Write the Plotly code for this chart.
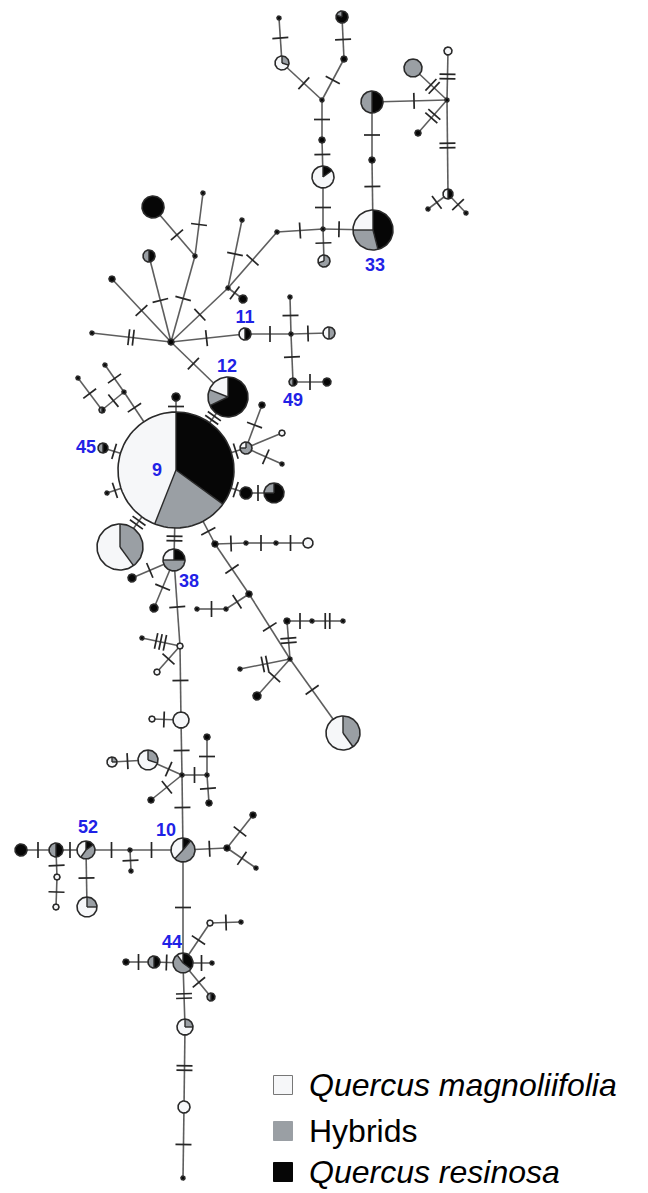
import math
import plotly.graph_objects as go

W, H = 648, 1193

# ---------------- haplotype nodes ----------------
node_id = ["t1", "t2", "t3", "t4", "t5", "t6", "t7", "t8", "t9", "33", "t10", "t11", "t12", "t13", "t14", "t15", "t16", "t17", "t18", "t19",
           "m1", "m2", "m3", "hub", "m4", "m5", "m6", "m7", "m8", "m9", "11", "m10", "m11", "m12", "49", "m13", "12",
           "9", "n1", "n2", "n3", "n4", "n5", "45", "n6", "n7", "n8", "n9", "n10", "n11", "n12", "n13", "38", "n14", "n15",
           "d1", "d2", "d3", "d4", "d5", "d6", "d7", "d8", "d9", "d10", "d11", "d12", "d13", "d14",
           "v1", "v2", "v3", "v4", "v5", "v6", "v7", "v8", "v9", "v10", "v11", "v12", "10",
           "l1", "l2", "52", "l3", "l4", "l5", "l6", "l7", "l8", "l9", "l10", "44", "l11", "l12", "l13", "l14", "l15", "l16", "l17", "l18", "l19"]

node_x = [279, 282, 342, 344, 322, 322, 323, 323, 324, 373, 372, 372, 447, 448, 413, 418, 448, 428, 466, 277,
          228, 242, 243, 171, 92, 112, 149, 195, 153, 203, 245, 291, 329, 290, 293, 327, 228,
          176, 176, 124, 105, 102, 78, 103, 107, 246, 262, 282, 282, 246, 274, 120, 174, 132, 154,
          215, 246, 276, 308, 249, 226, 197, 290, 287, 312, 343, 240, 257, 343,
          180, 142, 157, 181, 152, 182, 148, 112, 151, 207, 207, 209, 183,
          130, 131, 86, 56, 21, 57, 56, 87, 227, 253, 256, 183, 154, 126, 212, 210, 241, 211, 185, 184, 183]

node_y = [18, 63, 17, 59, 100, 140, 177, 229, 261, 230, 160, 102, 100, 51, 68, 133, 194, 209, 213, 232,
          288, 220, 299, 342, 333, 279, 256, 256, 207, 193, 334, 334, 333, 297, 382, 382, 397,
          470, 397, 392, 365, 410, 378, 448, 493, 448, 405, 433, 464, 493, 493, 547, 560, 578, 608,
          544, 543, 543, 543, 594, 609, 609, 659, 621, 621, 621, 669, 696, 733,
          646, 638, 672, 720, 719, 775, 760, 762, 800, 775, 737, 803, 850,
          850, 871, 850, 850, 850, 877, 907, 907, 848, 815, 868, 963, 962, 962, 963, 923, 922, 997, 1027, 1107, 1178]

node_r = [2, 7, 6, 3, 2, 3, 11, 2, 6, 20, 3, 11, 2, 4, 9, 3, 5, 2, 2, 2,
          2, 2, 4, 3, 2, 3, 6, 2, 11, 2, 6, 2, 6, 2, 4, 4, 20,
          58, 4, 2, 2, 3, 2, 5, 2, 6, 3, 3, 2, 6, 10, 23, 11, 4, 4,
          3, 2, 2, 5, 3, 2, 2, 2, 3, 2, 2, 2, 4, 17,
          3, 2, 3, 8, 3, 2, 10, 5, 3, 2, 3, 3, 12,
          2, 2, 9, 7, 6, 3, 3, 10, 3, 3, 2, 10, 6, 3, 2, 3, 2, 4, 8, 6, 2]

# share of each taxon in each haplotype
frac_resinosa = [1, 0, .8, 1, 1, 1, .15, 1, 0, .46, 1, .5, 1, 0, 0, 1, .5, 1, 1, 1,
                 1, 1, 1, 1, 1, 1, .5, 1, 1, 1, .5, 1, 0, 1, .5, 1, .68,
                 .35, 1, 1, 1, .5, 1, .5, 1, 0, 1, 0, 1, 1, .75, 0, .25, 1, 1,
                 1, 1, 1, 0, 1, 1, 1, 1, 1, 1, 1, 1, 1, 0,
                 0, 1, 0, 0, 0, 1, 0, 0, 1, 1, 1, 1, .11,
                 1, 1, .15, .5, 1, 0, 0, 0, 1, 1, 1, .35, .5, 1, 1, 0, 1, .5, 0, 0, 1]

frac_hybrids = [0, .3, .2, 0, 0, 0, 0, 0, .7, .29, 0, .5, 0, 0, 1, 0, 0, 0, 0, 0,
                0, 0, 0, 0, 0, 0, .5, 0, 0, 0, 0, 0, .5, 0, .5, 0, .13,
                .21, 0, 0, 0, .5, 0, .5, 0, .75, 0, 0, 0, 0, .25, .4, .5, 0, 0,
                0, 0, 0, 0, 0, 0, 0, 0, 0, 0, 0, 0, 0, .4,
                0, 0, 0, 0, 0, 0, .3, .25, 0, 0, 0, 0, .51,
                0, 0, .45, .5, 0, 0, 0, .25, 0, 0, 0, .55, .5, 0, 0, 0, 0, .5, .25, 0, 0]

frac_magnoliifolia = [0, .7, 0, 0, 0, 0, .85, 0, .3, .25, 0, 0, 0, 1, 0, 0, .5, 0, 0, 0,
                      0, 0, 0, 0, 0, 0, 0, 0, 0, 0, .5, 0, .5, 0, 0, 0, .19,
                      .44, 0, 0, 0, 0, 0, 0, 0, .25, 0, 1, 0, 0, 0, .6, .25, 0, 0,
                      0, 0, 0, 1, 0, 0, 0, 0, 0, 0, 0, 0, 0, .6,
                      1, 0, 1, 1, 1, 0, .7, .75, 0, 0, 0, 0, .38,
                      0, 0, .4, 0, 0, 1, 1, .75, 0, 0, 0, .1, 0, 0, 0, 1, 0, 0, .75, 1, 0]

# ---------------- network links (mutation steps) ----------------
edge_from = ["t1", "t2", "t3", "t4", "t5", "t6", "t7", "t8", "t8", "t19", "33", "t10", "t11", "t12", "t12", "t12", "t12", "t16", "t16",
             "m1", "m1", "m1", "hub", "hub", "hub", "hub", "hub", "m7", "m7", "hub", "11", "m10", "m10", "m10", "49", "hub",
             "9", "9", "9", "n2", "n2", "n5", "9", "9", "9", "n7", "n7", "n7", "9", "n11", "9", "9", "38", "38",
             "9", "d1", "d2", "d3", "d1", "d5", "d6", "d5", "d8", "d9", "d10", "d8", "d8", "d8",
             "38", "v1", "v1", "v1", "v4", "v4", "v6", "v7", "v6", "v6", "v10", "v10", "v6",
             "52", "l1", "l1", "l3", "l4", "l3", "l5", "52", "10", "l8", "l8", "10", "44", "l11", "44", "44", "l14", "44", "44", "l17", "l18"]
edge_to = ["t2", "t5", "t4", "t5", "t6", "t7", "t8", "t9", "33", "t8", "t10", "t11", "t12", "t13", "t14", "t15", "t16", "t17", "t18",
           "t19", "m2", "m3", "m1", "m4", "m5", "m6", "m7", "m8", "m9", "11", "m10", "m11", "m12", "49", "m13", "12",
           "12", "n1", "n2", "n3", "n4", "n4", "45", "n6", "n7", "n8", "n9", "n10", "n11", "n12", "n13", "38", "n14", "n15",
           "d1", "d2", "d3", "d4", "d5", "d6", "d7", "d8", "d9", "d10", "d11", "d12", "d13", "d14",
           "v1", "v2", "v3", "v4", "v5", "v6", "v7", "v8", "v9", "v10", "v11", "v12", "10",
           "l1", "10", "l2", "52", "l3", "l5", "l6", "l7", "l8", "l9", "l10", "44", "l11", "l12", "l13", "l14", "l15", "l16", "l17", "l18", "l19"]
edge_mut = [1, 1, 1, 1, 1, 1, 1, 1, 1, 1, 1, 1, 1, 2, 2, 2, 2, 1, 1,
            1, 1, 1, 1, 2, 1, 1, 1, 1, 1, 1, 1, 1, 1, 1, 1, 1,
            2, 1, 1, 1, 1, 1, 1, 1, 1, 1, 0, 1, 1, 1, 2, 2, 1, 1,
            1, 1, 1, 1, 1, 1, 1, 1, 2, 1, 2, 2, 1, 1,
            1, 3, 1, 1, 1, 1, 1, 1, 1, 1, 1, 1, 1,
            1, 1, 1, 1, 1, 1, 1, 1, 1, 1, 1, 1, 1, 1, 1, 1, 1, 1, 2, 2, 1]

# ---------------- haplotype labels ----------------
label_text = ["9", "11", "12", "49", "33", "45", "38", "52", "10", "44"]
label_x = [157, 245, 227, 293, 375, 86, 189, 88, 166, 172]
label_y = [471, 318, 367, 401, 266, 448, 582, 828, 831, 943]

# ---------------- legend ----------------
categories = ["Quercus magnoliifolia", "Hybrids", "Quercus resinosa"]
cat_italic = [True, False, True]
cat_colors = ["#f6f7f9", "#9a9fa4", "#060606"]
COL_RES, COL_HYB, COL_MAG = cat_colors[2], cat_colors[1], cat_colors[0]

idx = {n: i for i, n in enumerate(node_id)}
fig = go.Figure()

# links
ex, ey = [], []
for a, b in zip(edge_from, edge_to):
    i, j = idx[a], idx[b]
    ex += [node_x[i], node_x[j], None]
    ey += [node_y[i], node_y[j], None]
fig.add_trace(go.Scatter(x=ex, y=ey, mode="lines", line=dict(color="#5e5e5e", width=1.6),
                         hoverinfo="skip"))

# mutation ticks
tx, ty = [], []
HALF = 8.0
for a, b, n in zip(edge_from, edge_to, edge_mut):
    if n == 0:
        continue
    i, j = idx[a], idx[b]
    x1, y1, r1 = node_x[i], node_y[i], node_r[i]
    x2, y2, r2 = node_x[j], node_y[j], node_r[j]
    dx, dy = x2 - x1, y2 - y1
    L = math.hypot(dx, dy)
    ux, uy = dx / L, dy / L
    px, py = -uy, ux
    s = r1 + (L - r1 - r2) / 2.0
    for k in range(n):
        o = s + (k - (n - 1) / 2.0) * 4.5
        cx, cy = x1 + ux * o, y1 + uy * o
        tx += [cx - px * HALF, cx + px * HALF, None]
        ty += [cy - py * HALF, cy + py * HALF, None]
fig.add_trace(go.Scatter(x=tx, y=ty, mode="lines", line=dict(color="#262626", width=1.7),
                         hoverinfo="skip"))


def pt(cx, cy, r, ang):
    a = math.radians(ang)
    return cx + r * math.sin(a), cy - r * math.cos(a)


wedges = {COL_RES: ([], []), COL_HYB: ([], []), COL_MAG: ([], [])}
div_x, div_y = [], []
out_x, out_y = [], []
for i in range(len(node_id)):
    cx, cy, r = node_x[i], node_y[i], node_r[i]
    parts = [(frac_resinosa[i], COL_RES), (frac_hybrids[i], COL_HYB), (frac_magnoliifolia[i], COL_MAG)]
    tot = sum(p[0] for p in parts)
    nz = [p for p in parts if p[0] > 0]
    start = 0.0
    for f, col in parts:
        if f <= 0:
            continue
        span = 360.0 * f / tot
        xs, ys = wedges[col]
        steps = max(3, int(span / 4))
        if len(nz) == 1:
            for k in range(steps + 1):
                px_, py_ = pt(cx, cy, r, start + span * k / steps)
                xs.append(px_); ys.append(py_)
        else:
            xs.append(cx); ys.append(cy)
            for k in range(steps + 1):
                px_, py_ = pt(cx, cy, r, start + span * k / steps)
                xs.append(px_); ys.append(py_)
            xs.append(cx); ys.append(cy)
            ex_, ey_ = pt(cx, cy, r, start)
            div_x += [cx, ex_, None]; div_y += [cy, ey_, None]
        xs.append(None); ys.append(None)
        start += span
    for k in range(91):
        px_, py_ = pt(cx, cy, r, 4 * k)
        out_x.append(px_); out_y.append(py_)
    out_x.append(None); out_y.append(None)

for col in [COL_MAG, COL_HYB, COL_RES]:
    xs, ys = wedges[col]
    fig.add_trace(go.Scatter(x=xs, y=ys, mode="lines", fill="toself", fillcolor=col,
                             line=dict(width=0, color=col), hoverinfo="skip"))
fig.add_trace(go.Scatter(x=div_x, y=div_y, mode="lines", line=dict(color="#2a2a2a", width=1.4),
                         hoverinfo="skip"))
fig.add_trace(go.Scatter(x=out_x, y=out_y, mode="lines", line=dict(color="#2a2a2a", width=1.6),
                         hoverinfo="skip"))

# labels
fig.add_trace(go.Scatter(x=label_x, y=label_y, mode="text", text=label_text,
                         textfont=dict(family="Liberation Sans, Arial, sans-serif", size=18, color="#1f22e6",
                                       weight="bold"),
                         hoverinfo="skip"))

# legend
leg_y = [1085, 1131, 1172]
fig.add_trace(go.Scatter(x=[283] * 3, y=leg_y, mode="markers",
                         marker=dict(symbol="square", size=19, color=cat_colors,
                                     line=dict(color=["#777777", "#9a9fa4", "#060606"], width=1)),
                         hoverinfo="skip"))
for name, it, yy in zip(categories, cat_italic, leg_y):
    fig.add_annotation(x=307, y=yy, xref="x", yref="y", xanchor="left", yanchor="middle",
                       text=f"<i>{name}</i>" if it else name, showarrow=False,
                       font=dict(family="Liberation Sans, Arial, sans-serif", size=32, color="#000000"))

fig.update_layout(width=W, height=H, margin=dict(l=0, r=0, t=0, b=0), autosize=False,
                  paper_bgcolor="white", plot_bgcolor="white", showlegend=False,
                  xaxis=dict(range=[0, W], visible=False, fixedrange=True),
                  yaxis=dict(range=[H, 0], visible=False, fixedrange=True))
fig.write_html("out.html")
